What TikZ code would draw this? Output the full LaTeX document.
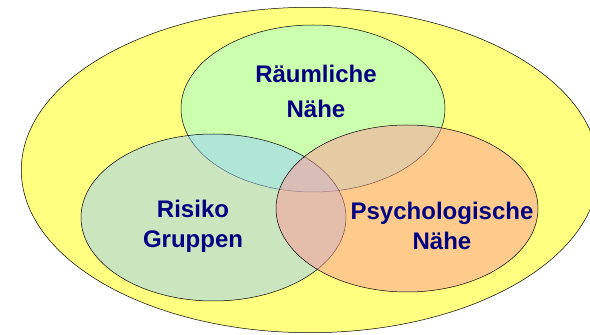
\documentclass[tikz,border=0pt]{standalone}
\usepackage{fontspec}
\setmainfont{Liberation Sans}
\usetikzlibrary{positioning}
\definecolor{bgyellow}{HTML}{FFFF80}
\definecolor{spacegreen}{HTML}{99FFDD}
\definecolor{riskblue}{HTML}{99CCFF}
\definecolor{psypink}{HTML}{FF9999}
\definecolor{textnavy}{HTML}{000080}
\tikzset{
  zone/.style={draw=black, line width=0.5pt, fill opacity=0.5, draw opacity=1},
  zonetext/.style={text=textnavy, font=\fontsize{24}{30}\selectfont\bfseries, align=center, anchor=base}
}

\begin{document}
\begin{tikzpicture}[x=1pt, y=1pt]
  \useasboundingbox (0,0) rectangle (590,335);
  % outer field
  \draw[fill=bgyellow, line width=0.5pt] (310,165) ellipse [x radius=288.7, y radius=162.7];
  % the three overlapping zones
  \draw[zone, fill=spacegreen] (313,226.5) ellipse [x radius=132, y radius=83.5];
  \draw[zone, fill=riskblue] (213.5,117.5) ellipse [x radius=132.5, y radius=83.5];
  \draw[zone, fill=psypink] (407,126.5) ellipse [x radius=131, y radius=83.5];
  % labels (base = last line)
  \node[zonetext] (raum) at (316,217) {Räumliche\\[5pt]Nähe};
  \node[zonetext] (risiko) at (193,87) {Risiko\\Gruppen};
  \node[zonetext] (psycho) at (442,85) {Psychologische\\Nähe};
\end{tikzpicture}
\end{document}
